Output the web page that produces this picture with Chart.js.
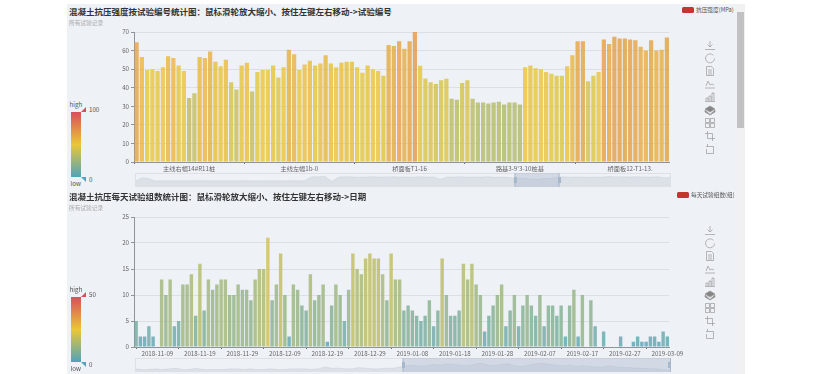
<!DOCTYPE html>
<html>
<head>
<meta charset="utf-8">
<script src="https://cdn.jsdelivr.net/npm/chart.js@4"></script>
<style>
  html, body { margin: 0; background: #fff; overflow: hidden; font-family: "Noto Sans CJK SC", "Noto Sans", sans-serif; }
  #page { position: relative; width: 821px; height: 374px; overflow: hidden; }
  #fondo { position: absolute; left: 67px; top: 4px; width: 670px; height: 370px; background: #eef1f6; }
  #barraFondo { position: absolute; left: 737px; top: 4px; width: 8px; height: 370px; background: #f1f1f1; }
  #barra { position: absolute; left: 737px; top: 12px; width: 7px; height: 116px; background: #c1c1c1; }
  .panel { position: absolute; left: 0; width: 821px; height: 185px; }
  .panel canvas { position: absolute; }
  .txt { position: absolute; white-space: nowrap; line-height: 1; }
  .titulo { left: 69px; top: 7px; font-size: 8.5px; font-weight: 700; color: #333; }
  .sub { left: 69px; top: 20px; font-size: 5.7px; color: #aaa; }
  .mapa { font-size: 6.2px; color: #555; }
  .leyenda { font-size: 5.7px; color: #555; top: 7px; }
  .marca { position: absolute; top: 7px; width: 12px; height: 6px; background: #c23531; border-radius: 1.5px; }
  .gradiente { position: absolute; left: 71px; top: 112px; width: 10px; height: 65px;
    background: linear-gradient(#d94e5d, #eac736, #50a3ba); }
</style>
</head>
<body>
<div id="page">
  <div id="fondo"></div>
  <div id="barraFondo"></div>
  <div id="barra"></div>
</div>
<script>
//DATOS
const valoresResistencia = [
  64.5, 56.5, 49.5, 50, 49, 51, 57, 56, 52, 49, 34.5, 37, 56.5, 56, 59.5, 54, 51.5, 55, 43, 39,
  52, 53.5, 38, 48.5, 49.5, 49.5, 52, 45.5, 51, 60.5, 58, 49.5, 52.5, 54.5, 52, 53, 57.5, 53, 51, 53.5,
  54, 54, 51, 48, 52, 50, 49, 46.5, 63, 62.5, 65, 61, 65, 70, 51.8, 45, 43, 42, 44, 44.8,
  34, 33.5, 42.5, 44, 34, 32, 32, 31.5, 32, 32.5, 31, 32, 32, 31, 51, 52, 50.5, 50, 48.5, 47.5,
  46.5, 46.5, 51.5, 57.5, 65, 65, 43.5, 46.5, 48.5, 66, 63.5, 67.5, 66.5, 66.5, 66, 65.5, 62, 60, 65.5, 60,
  60.5, 67
];
const etiquetasResistencia = ["主线右幅14#R11桩", "主线左幅1b-0", "桥面板T1-16", "路基3-9'3-10桩基", "桥面板12-T1-13."];

const valoresGrupos = [
  5, 2, 2, 4, 2, 0, 13, 10, 13, 4, 5, 12, 12, 14, 6, 16, 7, 13, 11, 12,
  13, 13, 10, 10, 12, 11, 11, 9, 13, 15, 15, 21, 9, 12, 18, 10, 2, 12, 11, 8,
  7, 14, 9, 10, 12, 1, 8, 12, 10, 5, 11, 18, 15, 14, 17, 18, 17, 17, 14, 9,
  18, 13, 13, 7, 8, 7, 6, 5, 6, 9, 4, 7, 17, 10, 6, 6, 7, 16, 13, 16,
  12, 10, 3, 6, 8, 10, 12, 4, 7, 10, 4, 8, 10, 8, 6, 10, 4, 8, 8, 6,
  8, 2, 8, 11, 2, 10, 0, 9, 4, 0, 3, 0, 0, 0, 2, 0, 0, 1, 2, 1,
  1, 2, 2, 1, 3, 2
];
const etiquetasGrupos = [
  "2018-11-09", "2018-11-19", "2018-11-29", "2018-12-09", "2018-12-19", "2018-12-29", "2019-01-08",
  "2019-01-18", "2019-01-28", "2019-02-07", "2019-02-17", "2019-02-27", "2019-03-09"
];

// miniatura de la barra de zoom (todo el registro, leido a ojo)
const miniaturaResistencia = [
  30, 50, 46, 32, 33, 33, 34, 33, 33, 34, 34, 33, 33, 34, 33, 33, 34, 33, 34, 33,
  33, 34, 33, 34, 33, 34, 54, 55, 58, 30, 53, 55, 54, 52, 54, 55, 53, 54, 55, 53,
  54, 52, 55, 53, 54, 42, 54, 53, 55, 52, 54, 53, 55, 52, 53, 52, 46, 48, 44, 42,
  45, 47, 50, 55, 52, 54, 53, 52, 54, 53, 56, 54, 55, 53, 55, 54, 53, 55, 50, 52
];
const miniaturaGrupos = [
  5, 4, 4, 5, 4, 5, 6, 4, 4, 6, 4, 4, 4, 4, 5, 5, 4, 5, 4, 4,
  5, 4, 4, 5, 5, 5, 4, 5, 8, 6, 6, 5, 5, 7, 6, 5, 5, 6, 6, 8,
  10, 11, 9, 10, 12, 11, 13, 12, 11, 10, 12, 14, 11, 10, 12, 13, 10, 9, 11, 13,
  14, 12, 11, 10, 11, 9, 10, 9, 8, 8, 10, 8, 7, 7, 6, 6, 5, 5, 4, 3
];
const ventanaResistencia = [56, 62.5];
const ventanaGrupos = [39.5, 79];

const colorBajo = [80, 163, 186];
const colorMedio = [234, 199, 54];
const colorAlto = [217, 78, 93];

const iconos = [
  "M5 0V6M2.5 3.5L5 6L7.5 3.5M0 8.5H10",
  "M8.3 1.8A4.5 4.5 0 1 0 9.5 5",
  "M1.5 .5H6.5L8.5 2.5V9.5H1.5ZM3 4H7M3 6H7M3 8H7",
  "M0 9H10M1 7L3 2L5 6L7 5L9 6",
  "M1 9V6H3V9M4 9V4H6V9M7 9V1H9V9M0 9.5H10",
  "",
  "M.5 .5H4.5V4.5H.5ZM5.5 .5H9.5V4.5H5.5ZM.5 5.5H4.5V9.5H.5ZM5.5 5.5H9.5V9.5H5.5Z",
  "M2.5 0V7.5H10M0 2.5H7.5V10",
  "M1 2.5H8.5V9.5H1.5V5M2.5 0V2.5"
];
const posIconos = [46, 58.5, 71, 84, 97, 110, 123, 136, 149];

//COLOR SEGUN VALOR (visualMap)
function colorValor(valor, maximo) {
  const t = Math.min(valor / maximo, 1);
  const a = t < 0.5 ? colorBajo : colorMedio;
  const b = t < 0.5 ? colorMedio : colorAlto;
  const k = t < 0.5 ? t * 2 : (t - 0.5) * 2;
  const c = a.map((v, i) => Math.round(v + (b[i] - v) * k));
  return `rgba(${c[0]},${c[1]},${c[2]},0.8)`;
}

function agregarTexto(panel, clase, texto, estilo) {
  const div = document.createElement("div");
  div.className = "txt " + clase;
  div.textContent = texto;
  div.style.cssText = estilo || "";
  panel.appendChild(div);
}

function agregarCanvas(panel, left, top, ancho, alto) {
  const canvas = document.createElement("canvas");
  canvas.width = ancho;
  canvas.height = alto;
  canvas.style.left = left + "px";
  canvas.style.top = top + "px";
  canvas.style.width = ancho + "px";
  canvas.style.height = alto + "px";
  panel.appendChild(canvas);
  return canvas;
}

function cargarIconos(panel) {
  let svg = '<svg style="position:absolute;left:0;top:0" width="821" height="185" fill="none" stroke="#9a9a9a" stroke-width="0.7">';
  iconos.forEach((d, i) => {
    const t = `translate(705 ${posIconos[i] - 5})`;
    if (d == "") {
      svg += `<g transform="${t}" fill="#858585"><path d="M5 1L10 4L5 7L0 4Z"/><path d="M0 5L5 9.5L10 5V7L5 10L0 7Z"/></g>`;
    } else {
      svg += `<path transform="${t}" d="${d}"/>`;
    }
  });
  panel.insertAdjacentHTML("beforeend", svg + "</svg>");
}

//GRAFICO DE BARRAS
function cargarBarras(panel, valores, categorias, maxY, pasoY, maxMapa, pasoTick, desfaseTick) {
  const canvas = agregarCanvas(panel, 67, 0, 670, 172);
  new Chart(canvas, {
    type: "bar",
    data: {
      labels: categorias,
      datasets: [{
        data: valores,
        backgroundColor: valores.map((v) => colorValor(v, maxMapa)),
        categoryPercentage: 1,
        barPercentage: 0.8,
      }],
    },
    options: {
      responsive: false,
      animation: false,
      layout: { padding: { top: 32, right: 67.5, bottom: 0, left: 0 } },
      plugins: { legend: { display: false }, tooltip: { enabled: false } },
      scales: {
        x: {
          afterFit: (s) => { s.height = 10; },
          border: { color: "#8f949b" },
          grid: {
            offset: desfaseTick,
            drawOnChartArea: false,
            tickLength: 2,
            tickColor: (ctx) => (ctx.index % pasoTick == 0 ? "#6b7078" : "transparent"),
          },
          ticks: {
            autoSkip: false,
            maxRotation: 0,
            minRotation: 0,
            padding: 1,
            color: "#666",
            font: { size: 6.2, family: '"Noto Sans CJK SC"' },
          },
        },
        y: {
          min: 0,
          max: maxY,
          afterFit: (s) => { s.width = 67; },
          border: { color: "#8f949b" },
          grid: { color: "#dcdfe5", tickLength: 3, tickColor: "#8f949b" },
          ticks: {
            stepSize: pasoY,
            padding: 2,
            color: "#666",
            font: { size: 6.2, family: '"Noto Sans CJK SC"' },
          },
        },
      },
    },
  });
}

//BARRA DE ZOOM
function cargarMiniatura(panel, valores, ventana, maxY) {
  const canvas = agregarCanvas(panel, 135, 173, 536, 14);
  const marcoZoom = {
    id: "marcoZoom",
    afterDatasetsDraw(chart) {
      const ctx = chart.ctx;
      const x0 = chart.scales.x.getPixelForValue(ventana[0]);
      const x1 = chart.scales.x.getPixelForValue(ventana[1]);
      ctx.save();
      ctx.strokeStyle = "#dde0e5";
      ctx.strokeRect(0.5, 0.5, chart.width - 1, chart.height - 1);
      ctx.fillStyle = "rgba(167,183,204,0.4)";
      ctx.fillRect(x0, 0, x1 - x0, chart.height);
      ctx.fillStyle = "#a7b7cc";
      [x0, x1].forEach((x) => {
        ctx.fillRect(Math.min(x - 1, chart.width - 3), 4, 3, 6);
        ctx.fillRect(Math.min(x - 0.5, chart.width - 1), 0, 1, chart.height);
      });
      ctx.restore();
    },
  };
  new Chart(canvas, {
    type: "line",
    data: {
      labels: valores.map((v, i) => i),
      datasets: [{
        data: valores,
        borderColor: "rgba(47,69,84,0.14)",
        borderWidth: 0.5,
        backgroundColor: "rgba(47,69,84,0.09)",
        fill: "origin",
        pointRadius: 0,
        tension: 0,
      }],
    },
    options: {
      responsive: false,
      animation: false,
      layout: { padding: 0 },
      plugins: { legend: { display: false }, tooltip: { enabled: false } },
      scales: {
        x: { display: false },
        y: { display: false, min: 0, max: maxY },
      },
    },
    plugins: [marcoZoom],
  });
}

//PANEL COMPLETO
function cargarPanel(cfg) {
  const panel = document.createElement("div");
  panel.className = "panel";
  panel.style.top = cfg.top + "px";
  document.getElementById("page").appendChild(panel);

  agregarTexto(panel, "titulo", cfg.titulo);
  agregarTexto(panel, "sub", "所有试验记录");

  // visualMap
  panel.insertAdjacentHTML("beforeend", '<div class="gradiente"></div>');
  panel.insertAdjacentHTML("beforeend",
    '<svg style="position:absolute;left:0;top:0" width="100" height="185">' +
    '<path d="M81 112L86 107V112Z" fill="#d94e5d"/><path d="M81 177H86V182Z" fill="#50a3ba"/></svg>');
  agregarTexto(panel, "mapa", "high", "left:69.5px;top:102px");
  agregarTexto(panel, "mapa", "low", "left:70.5px;top:181px");
  agregarTexto(panel, "mapa", cfg.maxMapa, "left:89px;top:106.5px");
  agregarTexto(panel, "mapa", "0", "left:89px;top:176.5px");

  // leyenda
  panel.insertAdjacentHTML("beforeend", `<div class="marca" style="left:${cfg.xLeyenda}px"></div>`);
  agregarTexto(panel, "leyenda", cfg.leyenda, `left:${cfg.xLeyenda + 14}px`);

  cargarIconos(panel);
  cargarBarras(panel, cfg.valores, cfg.categorias, cfg.maxY, cfg.pasoY, cfg.maxMapa, cfg.pasoTick, cfg.desfaseTick);
  cargarMiniatura(panel, cfg.miniatura, cfg.ventana, cfg.maxMiniatura);
}

//EVENTOS
cargarPanel({
  top: 0,
  titulo: "混凝土抗压强度按试验编号统计图：鼠标滑轮放大缩小、按住左键左右移动->试验编号",
  leyenda: "抗压强度(MPa)",
  xLeyenda: 682,
  valores: valoresResistencia,
  categorias: valoresResistencia.map((v, i) => (i % 21 == 10 ? etiquetasResistencia[(i - 10) / 21] : "")),
  maxY: 70,
  pasoY: 10,
  maxMapa: 100,
  pasoTick: 21,
  desfaseTick: true,
  miniatura: miniaturaResistencia,
  ventana: ventanaResistencia,
  maxMiniatura: 75,
});
cargarPanel({
  top: 185,
  titulo: "混凝土抗压每天试验组数统计图：鼠标滑轮放大缩小、按住左键左右移动->日期",
  leyenda: "每天试验组数(组)",
  xLeyenda: 677,
  valores: valoresGrupos,
  categorias: valoresGrupos.map((v, i) => (i % 10 == 5 ? etiquetasGrupos[(i - 5) / 10] : "")),
  maxY: 25,
  pasoY: 5,
  maxMapa: 50,
  pasoTick: 10,
  desfaseTick: false,
  miniatura: miniaturaGrupos,
  ventana: ventanaGrupos,
  maxMiniatura: 22,
});
</script>
</body>
</html>
